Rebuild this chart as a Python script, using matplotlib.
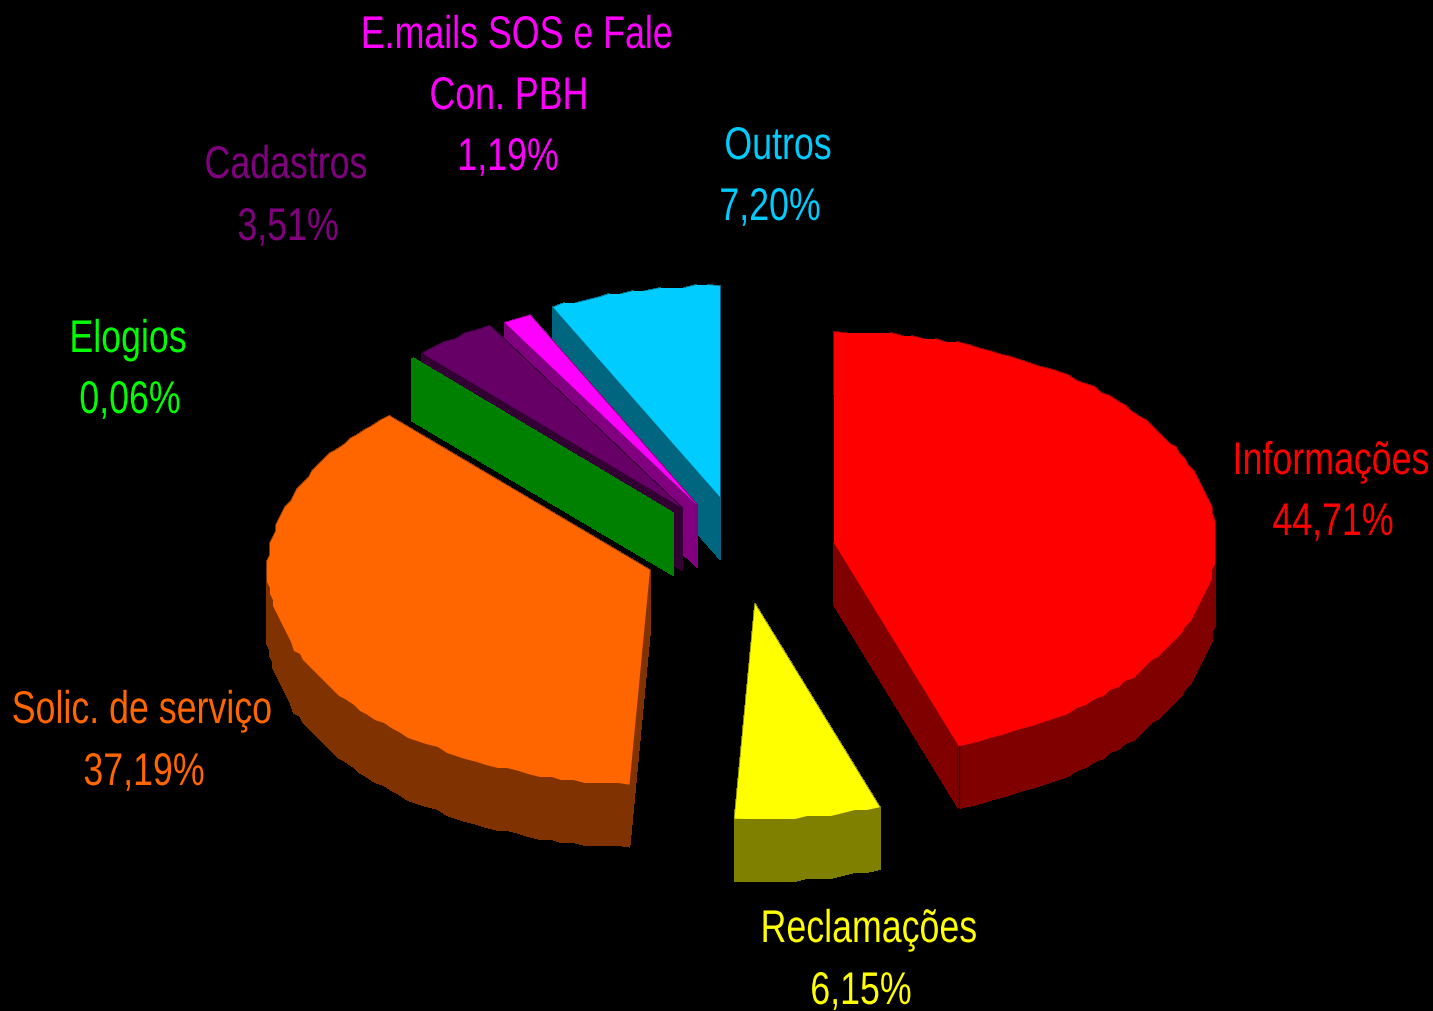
import numpy as np
import matplotlib
matplotlib.use('Agg')
import matplotlib.pyplot as plt
from matplotlib.patches import Polygon
from matplotlib.patheffects import AbstractPathEffect
from matplotlib.text import Text
from matplotlib.transforms import Affine2D, Bbox

# fatias, na ordem do grafico (sentido horario a partir do topo)
labels = ['Informações', 'Reclamações', 'Solic. de serviço', 'Elogios', 'Cadastros', 'E.mails SOS e Fale\nCon. PBH', 'Outros']
values = [44.71, 6.15, 37.19, 0.06, 3.51, 1.19, 7.20]

top_colors = ['#ff0000', '#ffff00', '#ff6600', '#008000', '#660066', '#ff00ff', '#00ccff']
side_colors = ['#800000', '#808000', '#803300', '#008000', '#330033', '#800080', '#006680']
text_colors = ['#ff0000', '#ffff00', '#ff6600', '#00ff00', '#800080', '#ff00ff', '#00ccff']

# vertice de cada fatia depois de explodir (pixels)
apex_x = [834, 755, 650, 673, 682, 697, 720]
apex_y = [543, 604, 570, 513, 508, 505, 497]
rx = 382
ry_back, ry_front = 211, 215
depth = 62

# posicao dos rotulos: nome e percentual
name_pos = [(1331, 462), (869, 930), (142, 711), (128, 340), (286, 166), (517, 36), (778, 147)]
pct_pos = [(1333, 523), (861, 992), (144, 773), (130, 401), (288, 228), (508, 158), (770, 208)]

# ordem de desenho: do fundo para a frente
draw_order = [6, 5, 4, 3, 2, 0, 1]

squeeze = 0.78
plt.rcParams['font.family'] = 'Liberation Sans'


# o original usa fonte estreita: aperta o texto na horizontal
class Narrow(AbstractPathEffect):
    def __init__(self, cx):
        self.cx = cx

    def draw_path(self, renderer, gc, tpath, affine, rgbFace=None):
        t = affine + Affine2D().translate(-self.cx, 0).scale(squeeze, 1).translate(self.cx, 0)
        renderer.draw_path(gc, tpath, t, rgbFace)


class NarrowText(Text):
    def get_window_extent(self, renderer=None, dpi=None):
        box = super().get_window_extent(renderer, dpi)
        cx = (box.x0 + box.x1) / 2
        w = box.width * squeeze
        return Bbox.from_extents(cx - w / 2, box.y0, cx + w / 2, box.y1)


fig = plt.figure(figsize=(14.33, 10.11), dpi=100, facecolor='black')
ax = fig.add_axes([0, 0, 1, 1])
ax.set_xlim(0, 1433)
ax.set_ylim(1011, 0)
ax.axis('off')

fractions = np.array(values) / sum(values)
edges = np.concatenate([[0], np.cumsum(fractions)]) * 2 * np.pi

for i in draw_order:
    n = max(2, int((edges[i + 1] - edges[i]) * 34))
    t = np.linspace(edges[i], edges[i + 1], n)
    x = apex_x[i] + rx * np.sin(t)
    y = apex_y[i] - np.where(np.cos(t) > 0, ry_back, ry_front) * np.cos(t)
    # contorno serrilhado como no original
    x[1:-1] = np.round(x[1:-1] / 3) * 3
    y[1:-1] = np.round(y[1:-1] / 3) * 3
    px = np.concatenate([[apex_x[i]], x])
    py = np.concatenate([[apex_y[i]], y])
    m = len(px)
    for k in range(m):
        j = (k + 1) % m
        quad = [(px[k], py[k]), (px[j], py[j]), (px[j], py[j] + depth), (px[k], py[k] + depth)]
        ax.add_patch(Polygon(quad, closed=True, facecolor=side_colors[i], edgecolor=side_colors[i],
                             linewidth=0.5, antialiased=False))
    ax.add_patch(Polygon(np.column_stack([px, py]), closed=True, facecolor=top_colors[i], edgecolor='none'))
    if i == 0:
        ax.plot([x[-1], x[-1]], [y[-1], y[-1] + depth], color='black', linewidth=0.8)


def put_text(x, y, s, color):
    cx = ax.transData.transform((x, y))[0]
    txt = NarrowText(x, y, s, color=color, fontsize=33, ha='center', va='center')
    txt.set_path_effects([Narrow(cx)])
    ax.add_artist(txt)


for i in range(len(labels)):
    lines = labels[i].split('\n')
    nx, ny = name_pos[i]
    for k, line in enumerate(lines):
        put_text(nx - 8 * k, ny + 61 * k, line, text_colors[i])
    pct = f'{values[i]:.2f}%'.replace('.', ',')
    put_text(pct_pos[i][0], pct_pos[i][1], pct, text_colors[i])

fig.savefig('out.png', dpi=100, facecolor='black')
